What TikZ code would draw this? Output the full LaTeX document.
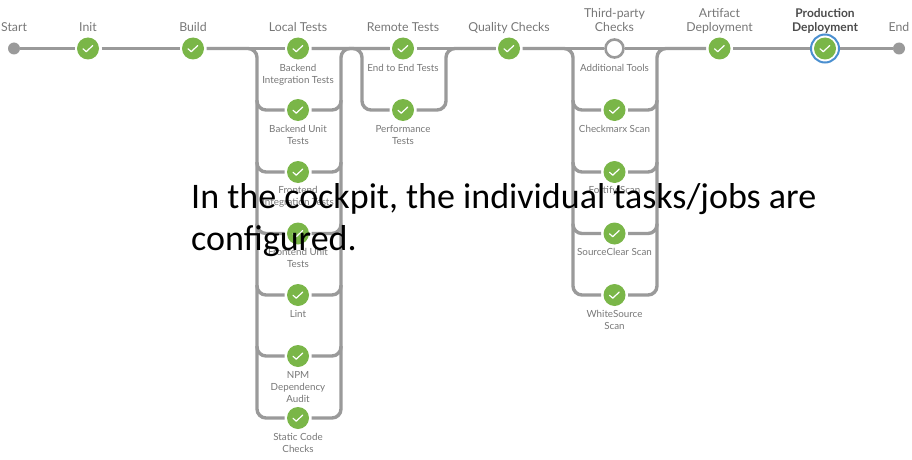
\documentclass[tikz,border=0pt]{standalone}
\usepackage{fontspec}
\setmainfont{Lato}
\newfontfamily\bigfont{Carlito}
\usetikzlibrary{backgrounds}
\definecolor{lnk}{HTML}{9A9A9A}
\definecolor{okg}{HTML}{7AB648}
\definecolor{txt}{HTML}{777777}
\definecolor{sel}{HTML}{4A8FD0}
\tikzset{
  x=1pt,y=-1pt,
  okstep/.style={circle,fill=okg,draw=none,minimum size=22pt,inner sep=0pt,outer sep=2.5pt,
    path picture={\draw[white,line width=1.2pt,line cap=round,line join=round]
      ([shift={(-5pt,-0.2pt)}]path picture bounding box.center) -- ++(3.2pt,-3pt) -- ++(6.6pt,6.2pt);}},
  idlestep/.style={circle,fill=white,draw=lnk,line width=2.6pt,minimum size=18pt,inner sep=0pt,outer sep=1.5pt},
  selstep/.style={circle,draw=sel,line width=2pt,fill=white,minimum size=28pt,inner sep=0pt,outer sep=0pt,
    path picture={\fill[okg] (path picture bounding box.center) circle[radius=11pt];
      \draw[white,line width=1.2pt,line cap=round,line join=round]
      ([shift={(-5pt,-0.2pt)}]path picture bounding box.center) -- ++(3.2pt,-3pt) -- ++(6.6pt,6.2pt);}},
  endstep/.style={circle,fill=lnk,draw=none,minimum size=12pt,inner sep=0pt,outer sep=0pt},
  conn/.style={draw=lnk,line width=3.4pt},
  bus/.style={conn,rounded corners=9pt},
  toplabel/.style={font=\fontsize{12.3}{14}\selectfont,text=txt,align=center,anchor=south,inner sep=0pt,text depth=3pt},
  sublabel/.style={font=\fontsize{9.8}{12}\selectfont,text=txt,align=center,anchor=north,inner sep=0pt},
  bigtext/.style={font=\bigfont\fontsize{36}{42}\selectfont,text=black,align=left,anchor=north west,inner sep=0pt}
}
\begin{document}
\begin{tikzpicture}
\useasboundingbox (0,0) rectangle (912,460);
% steps
\node[endstep] (start) at (14,48.5) {};
\node[okstep] (init) at (88,48.5) {};
\node[okstep] (build) at (193,48.5) {};
\node[okstep] (local) at (298,48.5) {};
\node[okstep] (bit) at (298,110) {};
\node[okstep] (but) at (298,172) {};
\node[okstep] (fit) at (298,233.5) {};
\node[okstep] (fut) at (298,295) {};
\node[okstep] (lint) at (298,356) {};
\node[okstep] (npm) at (298,418) {};
\node[okstep] (remote) at (403,48.5) {};
\node[okstep] (perf) at (403,110) {};
\node[okstep] (quality) at (509,48.5) {};
\node[idlestep] (third) at (614.5,48.5) {};
\node[okstep] (chk) at (614.5,110) {};
\node[okstep] (fort) at (614.5,172) {};
\node[okstep] (srcc) at (614.5,233.5) {};
\node[okstep] (whit) at (614.5,295) {};
\node[okstep] (art) at (719.5,48.5) {};
\node[selstep] (prod) at (825,48.5) {};
\node[endstep] (end) at (899,48.5) {};
% junction coordinates
\coordinate (la) at (257,48.5);
\coordinate (lb) at (341,48.5);
\coordinate (ra) at (362,48.5);
\coordinate (rb) at (446,48.5);
\coordinate (ta) at (573,48.5);
\coordinate (tb) at (657,48.5);
% connectors
\begin{scope}[on background layer]
\draw[conn] (start) -- (init);
\draw[conn] (init) -- (build);
\draw[conn] (build) -- (local);
\draw[conn] (local) -- (remote);
\draw[conn] (remote) -- (quality);
\draw[conn] (quality) -- (third);
\draw[conn] (third) -- (art);
\draw[conn] (art) -- (prod);
\draw[conn] (prod) -- (end);
% local tests branches: each piece of bus starts where the last one curves off
\draw[bus] (build.east) -- (la) |- (bit.west);
\draw[bus] (bit.east) -| (lb) -- (remote.west);
\foreach \p/\n in {bit/but,but/fit,fit/fut,fut/lint,lint/npm}{
  \path (la |- \p.west) ++(0,-10) coordinate (sl);
  \path (lb |- \p.east) ++(0,-10) coordinate (sr);
  \draw[bus] (sl) |- (\n.west);
  \draw[bus] (\n.east) -| (sr);
}
% remote tests branch
\draw[bus] (local.east) -- (ra) |- (perf.west);
\draw[bus] (perf.east) -| (rb) -- (quality.west);
% third-party branches
\draw[bus] (quality.east) -- (ta) |- (chk.west);
\draw[bus] (chk.east) -| (tb) -- (art.west);
\foreach \p/\n in {chk/fort,fort/srcc,srcc/whit}{
  \path (ta |- \p.west) ++(0,-10) coordinate (sl);
  \path (tb |- \p.east) ++(0,-10) coordinate (sr);
  \draw[bus] (sl) |- (\n.west);
  \draw[bus] (\n.east) -| (sr);
}
\end{scope}
% top labels
\node[toplabel] (tstart) at (14,35) {Start};
\node[toplabel] (tinit) at (88,35) {Init};
\node[toplabel] (tbuild) at (193,35) {Build};
\node[toplabel] (tlocal) at (298,35) {Local Tests};
\node[toplabel] (tremote) at (403,35) {Remote Tests};
\node[toplabel] (tquality) at (509,35) {Quality Checks};
\node[toplabel] (tthird) at (614.5,35) {Third-party\\Checks};
\node[toplabel] (tart) at (719.5,35) {Artifact\\Deployment};
\node[toplabel,font=\fontsize{12}{14}\selectfont\bfseries,text=black!70] (tprod) at (825,35) {Production\\Deployment};
\node[toplabel] (tend) at (899,35) {End};
% sub labels
\node[sublabel] (s1) at (298,64) {Backend\\Integration Tests};
\node[sublabel] (s2) at (298,125) {Backend Unit\\Tests};
\node[sublabel] (s3) at (298,186) {Frontend\\Integration Tests};
\node[sublabel] (s4) at (298,248) {Frontend Unit\\Tests};
\node[sublabel] (s5) at (298,310) {Lint};
\node[sublabel] (s6) at (298,371) {NPM\\Dependency\\Audit};
\node[sublabel] (s7) at (298,433) {Static Code\\Checks};
\node[sublabel] (s8) at (403,64) {End to End Tests};
\node[sublabel] (s9) at (403,125) {Performance\\Tests};
\node[sublabel] (s10) at (614.5,64) {Additional Tools};
\node[sublabel] (s11) at (614.5,125) {Checkmarx Scan};
\node[sublabel] (s12) at (614.5,186) {Fortify Scan};
\node[sublabel] (s13) at (614.5,248) {SourceClear Scan};
\node[sublabel] (s14) at (614.5,310) {WhiteSource\\Scan};
% overlay text
\node[bigtext] (cap) at (191,183) {In the cockpit, the individual tasks/jobs are\\configured.};
\end{tikzpicture}
\end{document}
